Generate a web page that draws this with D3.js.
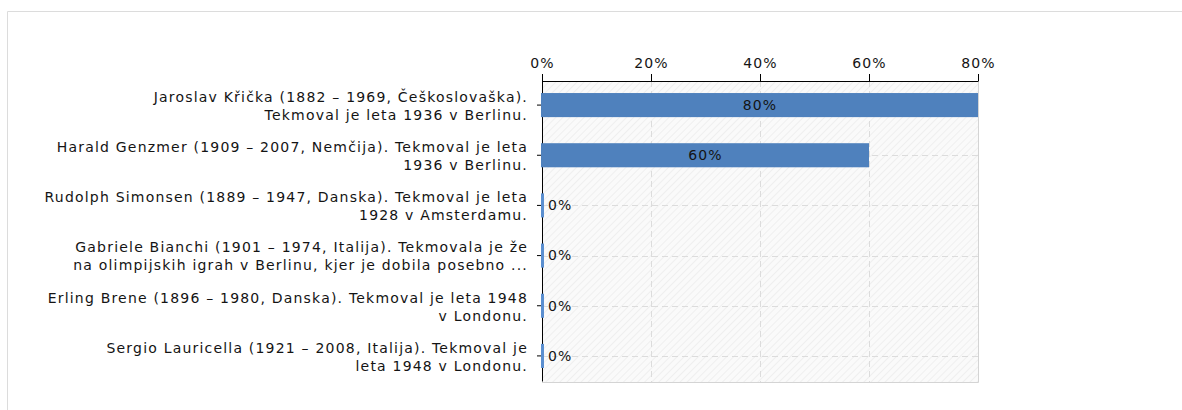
<!DOCTYPE html>
<html>
<head>
<meta charset="utf-8">
<script src="https://cdn.jsdelivr.net/npm/d3@7"></script>
<style>
  html, body { margin: 0; padding: 0; background: #fff; }
  svg { display: block; font-family: "DejaVu Sans", Verdana, sans-serif; }
  text { font-size: 14px; letter-spacing: 1.2px; fill: #141414; }
</style>
</head>
<body>
<svg id="chart" width="1182" height="410"></svg>
<script>
// categories (line breaks as shown in the chart)
var categories = [
    "Jaroslav Křička (1882 – 1969, Češkoslovaška).\nTekmoval je leta 1936 v Berlinu.",
    "Harald Genzmer (1909 – 2007, Nemčija). Tekmoval je leta\n1936 v Berlinu.",
    "Rudolph Simonsen (1889 – 1947, Danska). Tekmoval je leta\n1928 v Amsterdamu.",
    "Gabriele Bianchi (1901 – 1974, Italija). Tekmovala je že\nna olimpijskih igrah v Berlinu, kjer je dobila posebno ...",
    "Erling Brene (1896 – 1980, Danska). Tekmoval je leta 1948\nv Londonu.",
    "Sergio Lauricella (1921 – 2008, Italija). Tekmoval je\nleta 1948 v Londonu."
];
// share of votes, percent
var values = [80, 60, 0, 0, 0, 0];
var xTicks = [0, 20, 40, 60, 80];

var svg = d3.select('#chart');
var margin = {left: 542, top: 81, right: 1182 - 978, bottom: 410 - 382};
var W = 1182 - margin.left - margin.right,
    H = 410 - margin.top - margin.bottom;

// outer frame
svg.append('path')
   .attr('d', 'M7.5,410 V11.5 H1182')
   .style('fill', 'none')
   .style('stroke', '#dcdcdc');

var defs = svg.append('defs');
var pat = defs.append('pattern')
    .attr('id', 'hatch')
    .attr('width', 5).attr('height', 5)
    .attr('patternUnits', 'userSpaceOnUse')
    .attr('patternTransform', 'rotate(45)');
pat.append('rect').attr('width', 5).attr('height', 5).style('fill', '#fafafa');
pat.append('line').attr('x1', 0).attr('y1', 0).attr('x2', 0).attr('y2', 5)
   .style('stroke', '#e8e8e8').style('stroke-width', 1.2);

var x = d3.scaleLinear().domain([0, 80]).range([0, W]);
var y = d3.scaleBand().domain(d3.range(categories.length)).range([-1, H - 1]).paddingInner(0.52).paddingOuter(0.26);

var g = svg.append('g').attr('transform', 'translate(' + margin.left + ',' + margin.top + ')');

g.append('rect').attr('width', W).attr('height', H).style('fill', 'url(#hatch)');

// grid
g.selectAll('.vgrid').data(xTicks.slice(1, -1)).enter().append('line')
  .attr('x1', d => Math.round(x(d)) + 0.5).attr('x2', d => Math.round(x(d)) + 0.5)
  .attr('y1', 0).attr('y2', H)
  .style('stroke', '#dcdcdc').style('stroke-dasharray', '6,4');
g.selectAll('.hgrid').data(d3.range(categories.length)).enter().append('line')
  .attr('x1', 0).attr('x2', W)
  .attr('y1', d => Math.round(y(d) + y.bandwidth() / 2) + 0.5)
  .attr('y2', d => Math.round(y(d) + y.bandwidth() / 2) + 0.5)
  .style('stroke', '#dcdcdc').style('stroke-dasharray', '6,4');
g.append('path')
  .attr('d', 'M0,' + (H + 0.5) + 'H' + (W + 0.5) + 'V0')
  .style('fill', 'none').style('stroke', '#d4d4d4');

// top axis
var xAxis = d3.axisTop(x).tickValues(xTicks).tickFormat(d => d + '%').tickSize(7).tickSizeOuter(0);
var ax = g.append('g').call(xAxis);
ax.attr('font-family', null).attr('font-size', null);
ax.select('.domain').style('stroke', '#000');
ax.selectAll('.tick line').style('stroke', '#000');
ax.selectAll('text').attr('y', -13).attr('dy', 0).attr('fill', null);

// left axis
var yAxis = d3.axisLeft(y).tickSize(5).tickSizeOuter(0).tickFormat('');
var ay = g.append('g').call(yAxis);
ay.attr('font-family', null);
ay.select('.domain').style('stroke', '#000');
ay.selectAll('.tick line').style('stroke', '#000');

// bars (drawn over the axis line)
g.selectAll('.bar').data(values).enter().append('rect')
  .attr('x', -1)
  .attr('y', (d, i) => y(i))
  .attr('width', d => Math.max(x(d) + 1, 3))
  .attr('height', y.bandwidth())
  .style('fill', d => d > 0 ? '#4f81bd' : '#5b8fd0');

// value labels
g.selectAll('.val').data(values).enter().append('text')
  .attr('x', d => d > 0 ? x(d) / 2 : 6)
  .attr('y', (d, i) => y(i) + y.bandwidth() / 2)
  .attr('dy', '0.35em')
  .attr('text-anchor', d => d > 0 ? 'middle' : 'start')
  .text(d => d + '%');

// category labels, two lines each
var lab = g.selectAll('.cat').data(categories).enter().append('text')
  .attr('text-anchor', 'end')
  .attr('transform', (d, i) => 'translate(-14,' + (y(i) + y.bandwidth() / 2 + 1) + ')');
lab.each(function(d) {
    var lines = d.split('\n');
    var t = d3.select(this);
    lines.forEach(function(l, k) {
        t.append('tspan').attr('x', 0)
         .attr('y', (k - (lines.length - 1) / 2) * 18)
         .attr('dy', '0.35em')
         .text(l);
    });
});
</script>
</body>
</html>
